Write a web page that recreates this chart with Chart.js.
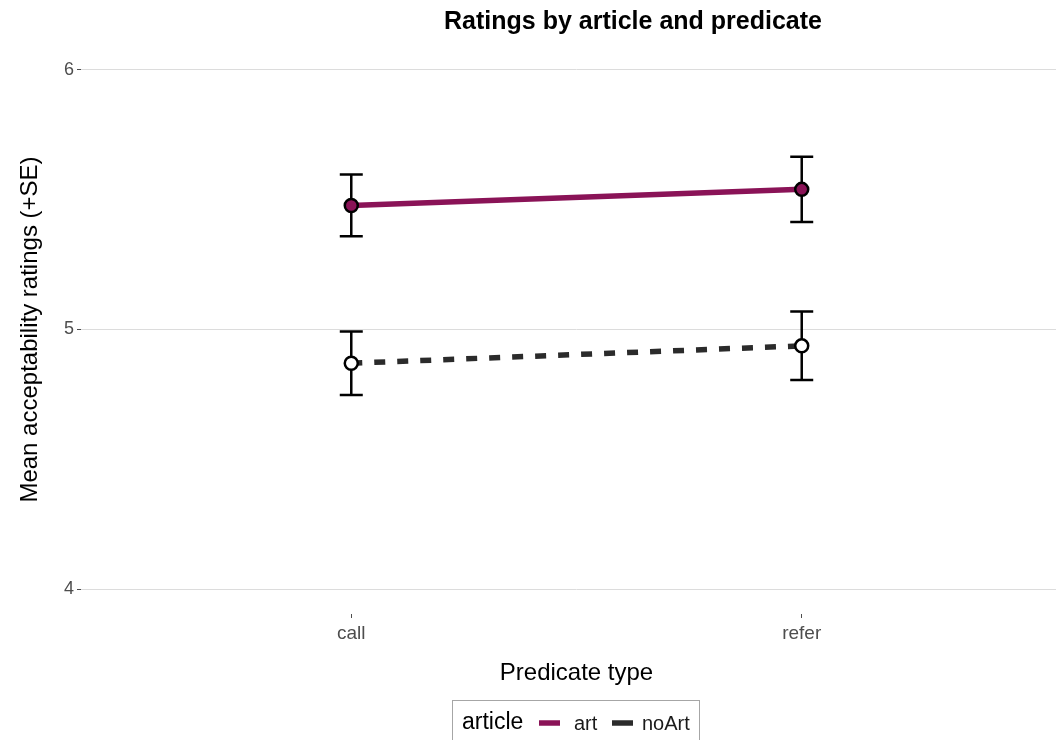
<!DOCTYPE html>
<html>
<head>
<meta charset="utf-8">
<script src="https://cdn.jsdelivr.net/npm/chart.js@4/dist/chart.umd.min.js"></script>
<style>
  html, body { margin: 0; padding: 0; background: #ffffff; overflow: hidden; }
  #wrap { width: 1056px; height: 740px; position: relative; overflow: hidden; }
  canvas { display: block; }
</style>
</head>
<body>
<div id="wrap"><canvas id="c" width="1081" height="740"></canvas></div>
<script>
// ---- data ----
const categories = ['call', 'refer'];
const seriesNames = ['art', 'noArt'];
const artMean = [5.478, 5.540];
const artSE = [0.119, 0.126];
const noArtMean = [4.870, 4.937];
const noArtSE = [0.122, 0.132];
const yTickValues = [4, 5, 6];
const chartTitle = 'Ratings by article and predicate';
const xTitle = 'Predicate type';
const yTitle = 'Mean acceptability ratings (+SE)';
const legendTitle = 'article';

const FONT = '"Liberation Sans", Arial, sans-serif';
const PURPLE = '#8a1357';
const DARK = '#2b2b2b';

function toPoints(means) {
  return means.map((v, i) => ({ x: i + 1, y: v }));
}

const errorBars = {
  id: 'errorBars',
  beforeDatasetsDraw(chart) {
    const { ctx, scales: { x, y } } = chart;
    const sets = [[artMean, artSE], [noArtMean, noArtSE]];
    ctx.save();
    ctx.strokeStyle = '#000000';
    ctx.lineWidth = 2.5;
    sets.forEach(([m, se]) => {
      m.forEach((v, i) => {
        const px = x.getPixelForValue(i + 1);
        const top = y.getPixelForValue(v + se[i]);
        const bot = y.getPixelForValue(v - se[i]);
        ctx.beginPath();
        ctx.moveTo(px, top); ctx.lineTo(px, bot);
        ctx.moveTo(px - 11.5, top); ctx.lineTo(px + 11.5, top);
        ctx.moveTo(px - 11.5, bot); ctx.lineTo(px + 11.5, bot);
        ctx.stroke();
      });
    });
    ctx.restore();
  }
};

const extraText = {
  id: 'extraText',
  afterDraw(chart) {
    const { ctx } = chart;
    ctx.save();
    // title
    ctx.fillStyle = '#000000';
    ctx.font = 'bold 25px ' + FONT;
    ctx.textAlign = 'center';
    ctx.textBaseline = 'middle';
    ctx.fillText(chartTitle, 633, 22);
    // legend box
    ctx.strokeStyle = '#a6a6a6';
    ctx.lineWidth = 1;
    ctx.strokeRect(452.5, 700.5, 247, 60);
    ctx.textAlign = 'left';
    ctx.fillStyle = '#000000';
    ctx.font = '23px ' + FONT;
    ctx.fillText(legendTitle, 462, 723);
    const items = [
      { name: seriesNames[0], color: PURPLE, sx: 539, tx: 574 },
      { name: seriesNames[1], color: DARK, sx: 612, tx: 642 }
    ];
    ctx.font = '20px ' + FONT;
    items.forEach(it => {
      ctx.strokeStyle = it.color;
      ctx.lineWidth = 5.5;
      ctx.beginPath();
      ctx.moveTo(it.sx, 723);
      ctx.lineTo(it.sx + 21, 723);
      ctx.stroke();
      ctx.fillStyle = '#1a1a1a';
      ctx.fillText(it.name, it.tx, 724);
    });
    ctx.restore();
  }
};

new Chart(document.getElementById('c'), {
  type: 'line',
  data: {
    datasets: [
      {
        label: seriesNames[0],
        data: toPoints(artMean),
        borderColor: PURPLE,
        borderWidth: 5.5,
        pointRadius: 6.5,
        pointBorderWidth: 2.5,
        pointBorderColor: '#000000',
        pointBackgroundColor: PURPLE,
        tension: 0
      },
      {
        label: seriesNames[1],
        data: toPoints(noArtMean),
        borderColor: DARK,
        borderWidth: 5.5,
        borderDash: [11, 12],
        pointRadius: 6.5,
        pointBorderWidth: 2.5,
        pointBorderColor: '#000000',
        pointBackgroundColor: '#ffffff',
        tension: 0
      }
    ]
  },
  options: {
    responsive: false,
    animation: false,
    devicePixelRatio: 1,
    layout: { padding: { top: 45, right: 0, bottom: 0, left: 0 } },
    plugins: { legend: { display: false }, tooltip: { enabled: false }, title: { display: false } },
    scales: {
      x: {
        type: 'linear',
        min: 0.4,
        max: 2.6,
        afterBuildTicks(scale) { scale.ticks = categories.map((c, i) => ({ value: i + 1 })); },
        afterFit(scale) { scale.height = 126; scale.paddingLeft = 0; scale.paddingRight = 0; },
        border: { display: false },
        grid: { drawOnChartArea: false, drawTicks: true, tickLength: 4, tickColor: '#4d4d4d', tickWidth: 1 },
        ticks: {
          padding: 4,
          color: '#4d4d4d',
          font: { family: FONT, size: 19 },
          callback: (v) => categories[Math.round(v) - 1]
        },
        title: {
          display: true,
          text: xTitle,
          color: '#000000',
          font: { family: FONT, size: 24 },
          padding: { top: 0, bottom: 52 }
        }
      },
      y: {
        min: 3.9037,
        max: 6.0963,
        afterBuildTicks(scale) { scale.ticks = yTickValues.map(v => ({ value: v })); },
        afterFit(scale) { scale.width = 81; scale.paddingTop = 0; scale.paddingBottom = 0; },
        border: { display: false },
        grid: { color: '#dcdcdc', lineWidth: 1, drawTicks: true, tickLength: 4, tickColor: '#4d4d4d', tickWidth: 1 },
        ticks: {
          padding: 3,
          color: '#4d4d4d',
          font: { family: FONT, size: 18 },
          callback: (v) => String(v)
        },
        title: {
          display: true,
          text: yTitle,
          color: '#000000',
          font: { family: FONT, size: 24 },
          padding: { top: 16, bottom: 0 }
        }
      }
    }
  },
  plugins: [errorBars, extraText]
});
</script>
</body>
</html>
